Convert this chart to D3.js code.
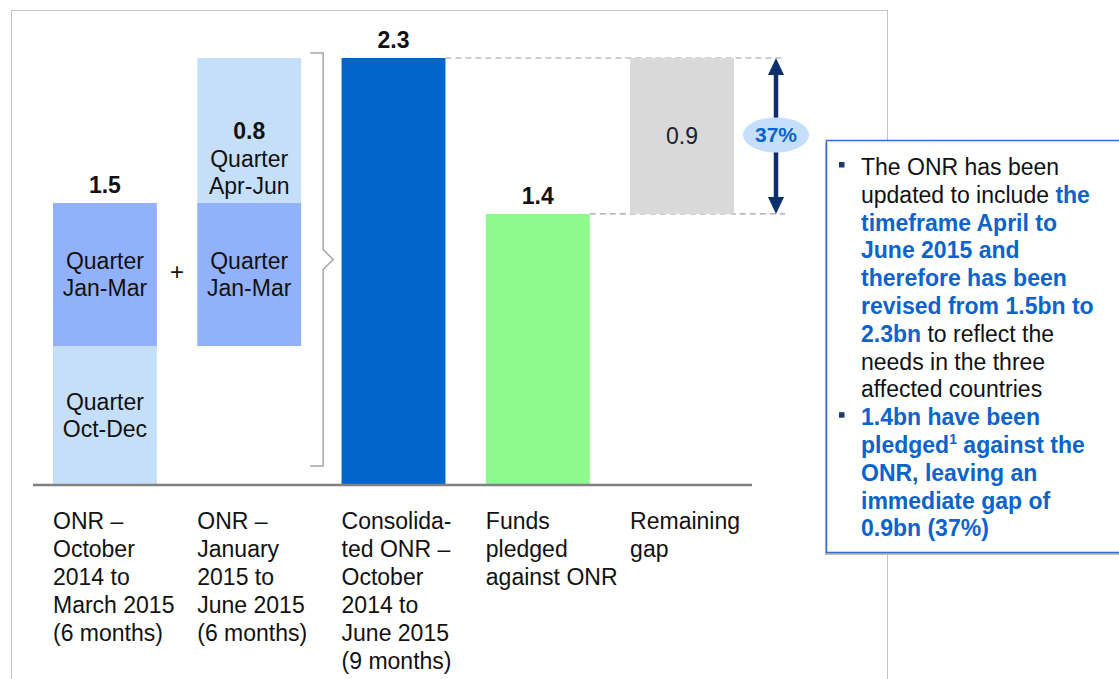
<!DOCTYPE html>
<html>
<head>
<meta charset="utf-8">
<script src="https://cdn.jsdelivr.net/npm/d3@7"></script>
<style>
  body { margin: 0; background: #fff; }
  svg { display: block; font-family: "Liberation Sans", Arial, sans-serif; }
</style>
</head>
<body>
<div id="chart"></div>
<script>
// categories and their wrapped axis labels
const categories = ["onr1", "onr2", "consolidated", "pledged", "gap"];
const categoryLines = [
  ["ONR –", "October", "2014 to", "March 2015", "(6 months)"],
  ["ONR –", "January", "2015 to", "June 2015", "(6 months)"],
  ["Consolida-", "ted ONR –", "October", "2014 to", "June 2015", "(9 months)"],
  ["Funds", "pledged", "against ONR"],
  ["Remaining", "gap"]
];

// quarter amounts (bn): Oct-Dec, Jan-Mar, Apr-Jun
const quarterNames = ["Oct-Dec", "Jan-Mar", "Apr-Jun"];
const quarterValues = [0.745, 0.772, 0.783];
const consolidatedValue = 2.3;
const pledgedValue = 1.458;

// printed labels
const valueLabels = ["1.5", "0.8", "2.3", "1.4", "0.9"];
const gapShare = "37%";

const noteLines = [
  [{t: "The ONR has been"}],
  [{t: "updated to include "}, {t: "the", b: true}],
  [{t: "timeframe April to", b: true}],
  [{t: "June 2015 and", b: true}],
  [{t: "therefore has been", b: true}],
  [{t: "revised from 1.5bn to", b: true}],
  [{t: "2.3bn", b: true}, {t: " to reflect the"}],
  [{t: "needs in the three"}],
  [{t: "affected countries"}],
  [{t: "1.4bn have been", b: true}],
  [{t: "pledged", b: true}, {t: "1", b: true, sup: true}, {t: " against the", b: true}],
  [{t: "ONR, leaving an", b: true}],
  [{t: "immediate gap of", b: true}],
  [{t: "0.9bn (37%)", b: true}]
];
const bulletAt = [0, 9];

const width = 1119, height = 679;
const baseY = 484;
const fs = 23;

const light = "#c5dffa", mid = "#92b1fd", dark = "#0066cc", green = "#8cfa8c", grey = "#d9d9d9";
const blueText = "#0a64cc", navy = "#0d2f6b";

const svg = d3.select("#chart").append("svg")
    .attr("width", width)
    .attr("height", height)
    .attr("viewBox", [0, 0, width, height]);

const x = d3.scaleBand().domain(categories).range([53, 734]).paddingInner(0.28).paddingOuter(0);
const y = d3.scaleLinear().domain([0, consolidatedValue]).range([baseY, 58]);

// outer frame
svg.append("rect")
    .attr("x", 11.5).attr("y", 10.5)
    .attr("width", 876).attr("height", 700)
    .attr("fill", "none")
    .attr("stroke", "#c4c4c4");

const q0 = quarterValues[0], q1 = q0 + quarterValues[1];
const segments = [
  {cat: "onr1", y0: 0, y1: q0, fill: light, text: ["Quarter", quarterNames[0]]},
  {cat: "onr1", y0: q0, y1: q1, fill: mid, text: ["Quarter", quarterNames[1]]},
  {cat: "onr2", y0: q0, y1: q1, fill: mid, text: ["Quarter", quarterNames[1]]},
  {cat: "onr2", y0: q1, y1: q1 + quarterValues[2], fill: light, text: null},
  {cat: "consolidated", y0: 0, y1: consolidatedValue, fill: dark, text: null},
  {cat: "pledged", y0: 0, y1: pledgedValue, fill: green, text: null}
];

svg.append("g")
  .selectAll("rect")
  .data(segments)
  .join("rect")
    .attr("x", d => x(d.cat))
    .attr("y", d => y(d.y1))
    .attr("width", x.bandwidth())
    .attr("height", d => y(d.y0) - y(d.y1))
    .attr("fill", d => d.fill);

// quarter labels inside the segments
const segText = svg.append("g")
    .attr("font-size", fs)
    .attr("fill", "#111")
    .attr("text-anchor", "middle");
segments.filter(d => d.text).forEach(d => {
  const cy = (y(d.y0) + y(d.y1)) / 2;
  d.text.forEach((line, i) => {
    segText.append("text")
        .attr("x", x(d.cat) + x.bandwidth() / 2)
        .attr("y", cy + (i - 0.5) * 27 + 8)
        .text(line);
  });
});

// top section of second bar: value + quarter name
const cx2 = x("onr2") + x.bandwidth() / 2;
const topMid = (y(q1) + y(q1 + quarterValues[2])) / 2;
segText.append("text").attr("x", cx2).attr("y", topMid + 8)
    .attr("font-weight", "bold").text(valueLabels[1]);
segText.append("text").attr("x", cx2).attr("y", topMid + 36).text("Quarter");
segText.append("text").attr("x", cx2).attr("y", topMid + 63).text(quarterNames[2]);

// values above bars
const above = [
  {cat: "onr1", v: q1, label: valueLabels[0]},
  {cat: "consolidated", v: consolidatedValue, label: valueLabels[2]},
  {cat: "pledged", v: pledgedValue, label: valueLabels[3]}
];
svg.append("g")
  .selectAll("text")
  .data(above)
  .join("text")
    .attr("x", d => x(d.cat) + x.bandwidth() / 2)
    .attr("y", d => y(d.v) - 10)
    .attr("text-anchor", "middle")
    .attr("font-size", fs)
    .attr("font-weight", "bold")
    .attr("fill", "#111")
    .text(d => d.label);

// plus sign
svg.append("text")
    .attr("x", (x("onr1") + x.bandwidth() + x("onr2")) / 2)
    .attr("y", (y(q0) + y(q1)) / 2 + 5)
    .attr("text-anchor", "middle")
    .attr("font-size", 24)
    .attr("fill", "#111")
    .text("+");

// bracket
const bx = x("onr2") + x.bandwidth() + 22;
const bTop = y(consolidatedValue) - 5, bBot = baseY - 18, bMid = (y(q0) + y(q1)) / 2 - 15;
svg.append("path")
    .attr("d", `M${bx - 13},${bTop} H${bx} V${bMid - 10} L${bx + 10},${bMid} L${bx},${bMid + 10} V${bBot} H${bx - 13}`)
    .attr("fill", "none")
    .attr("stroke", "#a6a6a6")
    .attr("stroke-width", 1.5);

// dashed guide lines
const ax = 776;
svg.append("g")
    .attr("stroke", "#a0a0a0")
    .attr("stroke-width", 1.2)
    .attr("stroke-dasharray", "6,4")
  .selectAll("line")
  .data([
    {x1: x("consolidated") + x.bandwidth(), v: consolidatedValue},
    {x1: x("pledged") + x.bandwidth(), v: pledgedValue}
  ])
  .join("line")
    .attr("x1", d => d.x1)
    .attr("x2", ax + 9)
    .attr("y1", d => y(d.v))
    .attr("y2", d => y(d.v));

// remaining gap bar, floating between pledged and consolidated
svg.append("rect")
    .attr("x", x("gap")).attr("y", y(consolidatedValue))
    .attr("width", x.bandwidth())
    .attr("height", y(pledgedValue) - y(consolidatedValue))
    .attr("fill", grey);
svg.append("text")
    .attr("x", x("gap") + x.bandwidth() / 2)
    .attr("y", (y(pledgedValue) + y(consolidatedValue)) / 2 + 8)
    .attr("text-anchor", "middle")
    .attr("font-size", fs)
    .attr("fill", "#222")
    .text(valueLabels[4]);

// double arrow
const aTop = y(consolidatedValue), aBot = y(pledgedValue);
svg.append("line")
    .attr("x1", ax).attr("x2", ax)
    .attr("y1", aTop + 14).attr("y2", aBot - 14)
    .attr("stroke", navy).attr("stroke-width", 4.5);
svg.append("path")
    .attr("d", `M${ax},${aTop} L${ax + 8},${aTop + 17} L${ax - 8},${aTop + 17}Z M${ax},${aBot} L${ax + 8},${aBot - 17} L${ax - 8},${aBot - 17}Z`)
    .attr("fill", navy);
const ey = (aTop + aBot) / 2 - 1;
svg.append("ellipse")
    .attr("cx", ax).attr("cy", ey)
    .attr("rx", 33).attr("ry", 17.5)
    .attr("fill", light);
svg.append("text")
    .attr("x", ax).attr("y", ey + 7)
    .attr("text-anchor", "middle")
    .attr("font-size", 21)
    .attr("font-weight", "bold")
    .attr("fill", blueText)
    .text(gapShare);

// baseline
svg.append("line")
    .attr("x1", 33).attr("x2", 752)
    .attr("y1", baseY + 1).attr("y2", baseY + 1)
    .attr("stroke", "#808080")
    .attr("stroke-width", 2.5);

// category labels
const catG = svg.append("g").attr("font-size", fs).attr("fill", "#111");
categories.forEach((c, i) => {
  categoryLines[i].forEach((line, j) => {
    catG.append("text")
        .attr("x", x(c))
        .attr("y", 529 + j * 28)
        .text(line);
  });
});

// note box
const box = {x: 826, y: 140, w: 300, h: 412};
svg.append("rect")
    .attr("x", box.x - 1).attr("y", box.y + 3)
    .attr("width", box.w).attr("height", box.h)
    .attr("fill", "#bdbdbd");
svg.append("rect")
    .attr("x", box.x + 0.5).attr("y", box.y + 0.5)
    .attr("width", box.w).attr("height", box.h)
    .attr("fill", "#fff")
    .attr("stroke", "#2f6fcf")
    .attr("stroke-width", 1.5);

const noteG = svg.append("g").attr("font-size", fs);
noteLines.forEach((runs, i) => {
  const t = noteG.append("text")
      .attr("x", 861)
      .attr("y", 175 + i * 27.8);
  let shifted = false;
  runs.forEach(r => {
    const ts = t.append("tspan")
        .attr("fill", r.b ? blueText : "#111")
        .attr("font-weight", r.b ? "bold" : "normal")
        .text(r.t);
    if (r.sup) {
      ts.attr("font-size", 14).attr("dy", -9);
      shifted = true;
    } else if (shifted) {
      ts.attr("dy", 9);
      shifted = false;
    }
  });
});
svg.append("g")
  .selectAll("rect")
  .data(bulletAt)
  .join("rect")
    .attr("x", 839)
    .attr("y", d => 162 + d * 27.8)
    .attr("width", 5.5)
    .attr("height", 5.5)
    .attr("fill", "#1f3a6e");
</script>
</body>
</html>
